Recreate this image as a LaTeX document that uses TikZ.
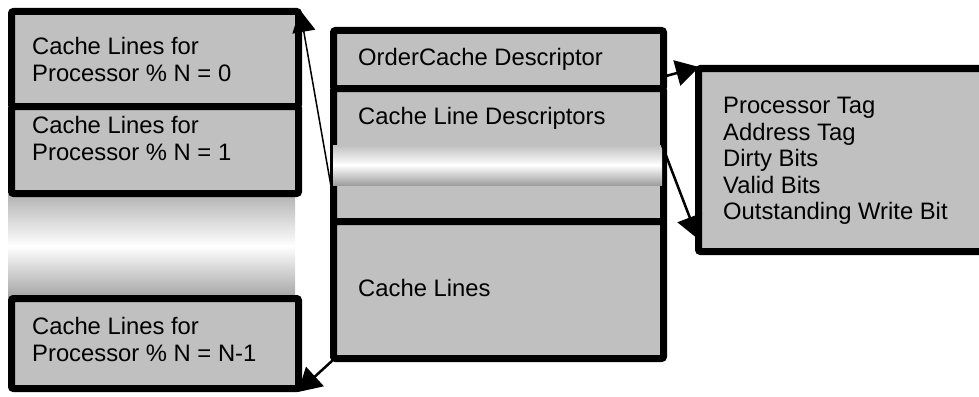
\documentclass[tikz,border=0pt]{standalone}
\usepackage{fontspec}
\setmainfont{Liberation Sans}
\usetikzlibrary{arrows.meta}
\definecolor{boxgray}{RGB}{192,192,192}
\begin{document}
\begin{tikzpicture}[x=1pt,y=-1pt,
  box/.style={draw=black, line width=7pt, fill=boxgray, rounded corners=2pt, inner sep=0pt, anchor=north west},
  lbl/.style={anchor=north west, inner sep=0pt, align=left, font=\fontsize{23.8}{26.6}\selectfont},
  fade/.style={draw=none, inner sep=0pt, outer sep=0pt, anchor=north west},
  conn/.style={-{Triangle[length=23pt,width=26pt]}, line width=2.5pt},
  thinconn/.style={-{Triangle[length=22pt,width=23pt]}, line width=1.5pt}]
\useasboundingbox (0,0) rectangle (979,396);
\clip (0,0) rectangle (979,396);
% left column
\node[fade, top color=black!30, bottom color=black!36, middle color=white, minimum width=287pt, minimum height=104pt] (lgrad) at (8,194) {};
\node[box, minimum width=287pt, minimum height=95pt] (l1) at (8,8) {};
\node[box, minimum width=287pt, minimum height=87pt] (l2) at (8,103) {};
\node[box, minimum width=287pt, minimum height=90pt] (l3) at (8,295) {};
\node[lbl] (t1) at (32,37) {Cache Lines for\\Processor \% N = 0};
\node[lbl] (t2) at (32,116) {Cache Lines for\\Processor \% N = 1};
\node[lbl] (t3) at (32,317) {Cache Lines for\\Processor \% N = N-1};
% middle column
\node[box, minimum width=330pt, minimum height=58pt] (ma) at (330,27) {};
\node[box, minimum width=330pt, minimum height=135pt] (mb) at (330,85) {};
\node[box, minimum width=330pt, minimum height=137pt] (mc) at (330,218) {};
\node[fade, top color=black!25, bottom color=black!38, middle color=white, minimum width=329pt, minimum height=40pt] (band) at (333,145) {};
\node[lbl] (ta) at (358,48) {OrderCache Descriptor};
\node[lbl] (tb) at (358,107) {Cache Line Descriptors};
\node[lbl] (tc) at (358,279) {Cache Lines};
% right box
\node[box, minimum width=400pt, minimum height=183pt] (rb) at (695,65) {};
\node[lbl] (tr) at (723,97) {Processor Tag\\Address Tag\\Dirty Bits\\Valid Bits\\Outstanding Write Bit};
% connector end points
\coordinate (s1) at (332,192);
\coordinate (e1) at (300,10);
\coordinate (s2) at (333,360);
\coordinate (e2) at (298,392);
\coordinate (s3) at (666,76);
\coordinate (e3) at (699,67);
\coordinate (s4) at (662,145);
\coordinate (e4) at (698,239);
\draw[thinconn] (s1) -- (e1);
\draw[conn] (s2) -- (e2);
\draw[conn] (s3) -- (e3);
\draw[conn] (s4) -- (e4);
\end{tikzpicture}
\end{document}
